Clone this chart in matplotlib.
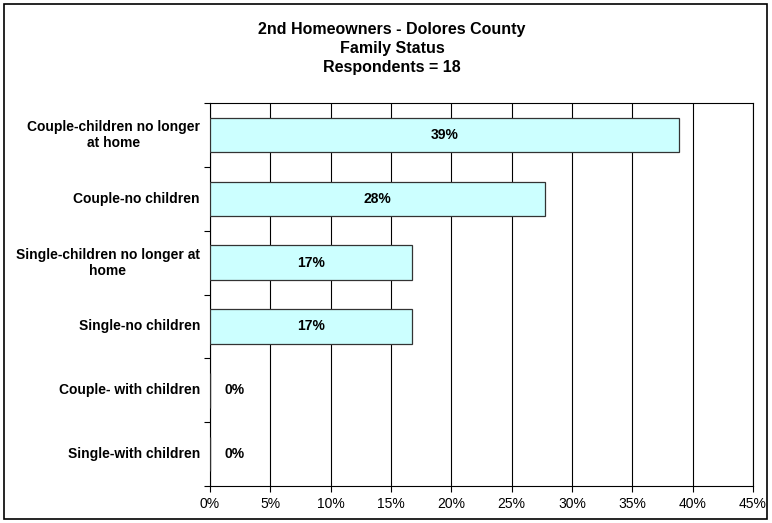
import matplotlib.pyplot as plt
from matplotlib.patches import Rectangle

categories = ['Couple-children no longer\nat home', 'Couple-no children',
              'Single-children no longer at\nhome', 'Single-no children',
              'Couple- with children', 'Single-with children']
values = [38.9, 27.8, 16.7, 16.7, 0, 0]
value_labels = ['39%', '28%', '17%', '17%', '0%', '0%']
x_ticks = [0, 5, 10, 15, 20, 25, 30, 35, 40, 45]


def main():
    plt.rcParams['font.family'] = ['Liberation Sans', 'DejaVu Sans']
    fig = plt.figure(figsize=(7.72, 5.23), dpi=100)
    fig.patches.append(Rectangle((0.005, 0.007), 0.989, 0.986, transform=fig.transFigure,
                                 fill=False, edgecolor='black', linewidth=1.2))
    ax = fig.add_axes([0.272, 0.0707, 0.7034, 0.7323])

    n = len(categories)
    ypos = list(range(n))
    ax.barh(ypos, values, height=0.54, color='#CCFFFF', edgecolor='#333333', linewidth=0.9, zorder=3)
    for y, v, lab in zip(ypos, values, value_labels):
        if v > 0:
            ax.text(v / 2, y, lab, ha='center', va='center', fontsize=10, fontweight='bold', zorder=4)
        else:
            ax.annotate(lab, (0, y), xytext=(25, 0), textcoords='offset pixels',
                        ha='center', va='center', fontsize=10, fontweight='bold')

    # category labels, centred line by line like the original
    for y, cat in zip(ypos, categories):
        ax.annotate(cat, (0, y), xytext=(-10, 0), textcoords='offset pixels',
                    ha='right', va='center', multialignment='center',
                    fontsize=10, fontweight='bold', linespacing=1.2)

    ax.set_xlim(0, 45)
    ax.set_ylim(n - 0.5, -0.5)
    ax.set_xticks(x_ticks)
    ax.set_xticklabels([f'{t}%' for t in x_ticks], fontsize=10)
    ax.grid(axis='x', color='black', linewidth=0.8, zorder=0)
    ax.set_yticks([i - 0.5 for i in range(n + 1)])
    ax.set_yticklabels([])
    ax.tick_params(axis='y', length=4, direction='out')
    ax.tick_params(axis='x', length=4, direction='out', pad=4)

    fig.text(0.508, 0.957, '2nd Homeowners - Dolores County\nFamily Status\nRespondents = 18',
             ha='center', va='top', fontsize=11.5, fontweight='bold', linespacing=1.3)

    plt.savefig('out.png', dpi=100)


if __name__ == '__main__':
    main()
